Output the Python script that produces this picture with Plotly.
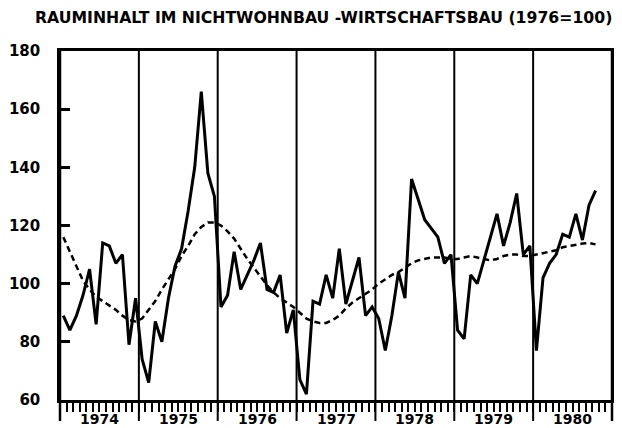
import plotly.graph_objects as go

# ---- data (monthly, Jan 1974 .. Oct 1980) ----
year_labels = ["1974", "1975", "1976", "1977", "1978", "1979", "1980"]

values_1974 = [89, 84, 89, 96, 105, 86, 114, 113, 107, 110, 79, 95]
values_1975 = [74, 66, 87, 80, 95, 106, 112, 125, 140, 166, 138, 130]
values_1976 = [92, 96, 111, 98, 103, 108, 114, 98, 97, 103, 83, 91]
values_1977 = [67, 62, 94, 93, 103, 95, 112, 93, 101, 109, 89, 92]
values_1978 = [88, 77, 89, 104, 95, 136, 129, 122, 119, 116, 107, 110]
values_1979 = [84, 81, 103, 100, 108, 116, 124, 113, 121, 131, 110, 113]
values_1980 = [77, 102, 107, 110, 117, 116, 124, 115, 127, 132]

trend_1974 = [116, 111, 106, 101, 98, 95.5, 94, 92.5, 91, 89, 87.5, 87]
trend_1975 = [88, 91, 94, 98, 101.5, 105, 109.5, 113, 117, 119.5, 121, 121]
trend_1976 = [120, 118, 115.5, 112, 108.5, 105.5, 102.5, 99.5, 97, 95, 93.5, 92]
trend_1977 = [90, 88, 87, 86.5, 86.5, 87.5, 89, 91.5, 93.5, 95, 96.5, 98]
trend_1978 = [100, 101.5, 103, 104, 105.5, 107, 108, 108.5, 109, 109, 109, 108.5]
trend_1979 = [108.5, 109, 109.5, 109, 108.5, 108, 108.5, 109.5, 110, 110, 109.5, 109.5]
trend_1980 = [110, 110.5, 111, 111.5, 112.5, 113, 113.5, 113.8, 114, 113.5]

y_ticks = [60, 80, 100, 120, 140, 160, 180]

solid = values_1974 + values_1975 + values_1976 + values_1977 + values_1978 + values_1979 + values_1980
trend = trend_1974 + trend_1975 + trend_1976 + trend_1977 + trend_1978 + trend_1979 + trend_1980
x_months = [i + 0.5 for i in range(len(solid))]
n_months = 12 * len(year_labels)

FONT = "DejaVu Sans"

fig = go.Figure()
fig.add_trace(go.Scatter(x=x_months, y=solid, mode="lines",
                         line=dict(color="black", width=3), showlegend=False))
fig.add_trace(go.Scatter(x=x_months, y=trend, mode="lines",
                         line=dict(color="black", width=2.5, dash="6px,4px"), showlegend=False))

# year separator lines (extend below the axis)
for k in range(1, len(year_labels)):
    fig.add_shape(type="line", xref="x", yref="paper", x0=12 * k, x1=12 * k,
                  y0=-0.06, y1=1, line=dict(color="black", width=2))
# left / right borders extension
for px in (0, 1):
    fig.add_shape(type="line", xref="paper", yref="paper", x0=px, x1=px,
                  y0=-0.06, y1=1, line=dict(color="black", width=2.5))

for k, lab in enumerate(year_labels):
    fig.add_annotation(x=12 * k + 6, y=-0.055, xref="x", yref="paper", text=lab,
                       showarrow=False, yanchor="middle",
                       font=dict(family=FONT, size=14, color="black", weight="bold"))

fig.update_layout(
    width=622, height=428,
    margin=dict(l=52, r=18, t=43, b=36, autoexpand=False),
    plot_bgcolor="white", paper_bgcolor="white",
    title=dict(text="RAUMINHALT IM NICHTWOHNBAU -WIRTSCHAFTSBAU (1976=100)",
               x=27 / 622, xanchor="left", y=1 - 9 / 428, yanchor="middle",
               automargin=False,
               font=dict(family=FONT, size=15.7, color="black", weight="bold")),
    xaxis=dict(range=[0, n_months], showgrid=False, zeroline=False, automargin=False,
               showline=True, linecolor="black", linewidth=2.5, mirror=True,
               ticks="outside", ticklen=9, tickwidth=1.5, tickcolor="black",
               tickvals=list(range(0, n_months + 1)), showticklabels=False),
    yaxis=dict(range=[60, 180], showgrid=False, zeroline=False, automargin=False,
               showline=True, linecolor="black", linewidth=2.5, mirror=True,
               ticks="inside", ticklen=10, tickwidth=2.5, tickcolor="black",
               tickvals=y_ticks, ticklabelstandoff=14,
               tickfont=dict(family=FONT, size=15, color="black", weight="bold")),
)

fig.write_html("out.html")
